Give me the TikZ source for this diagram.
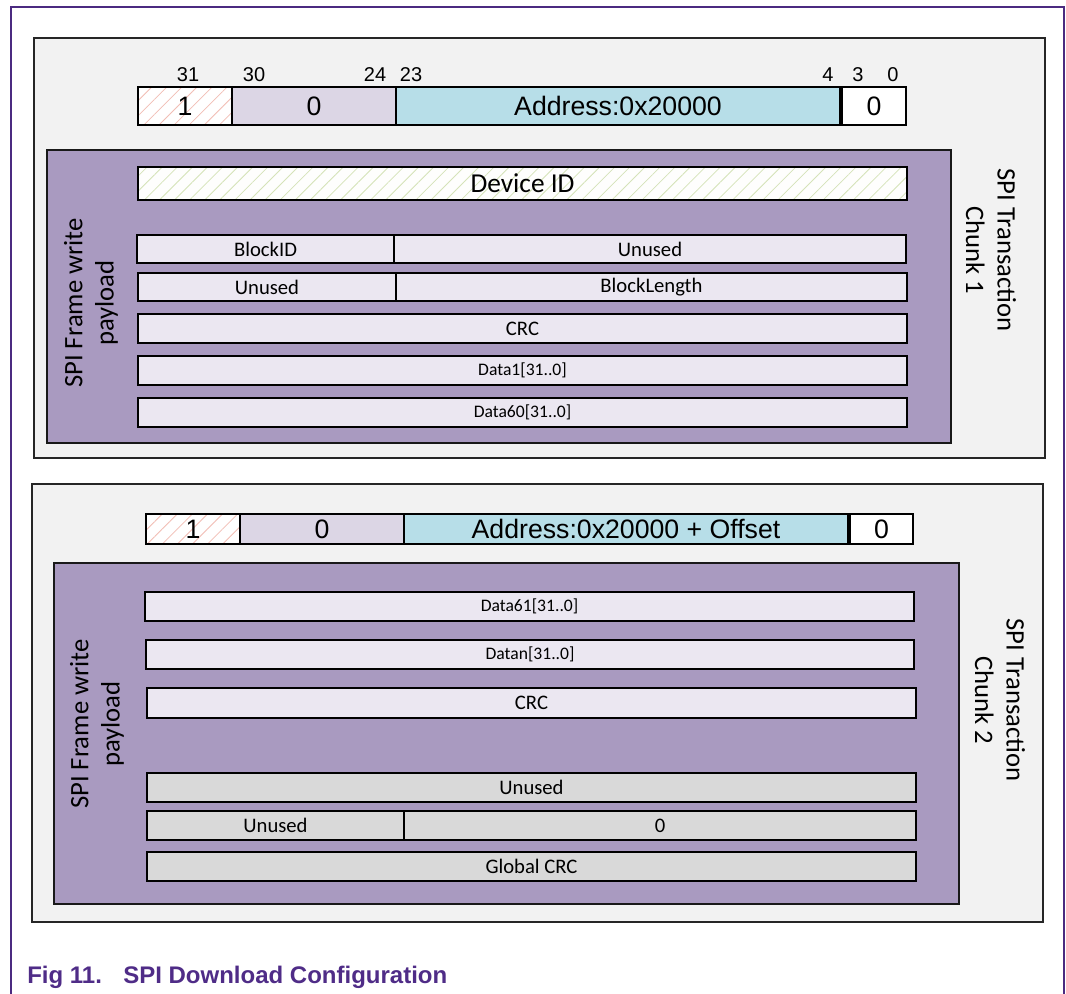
\documentclass[tikz,border=0pt]{standalone}
\usepackage{fontspec}
\setmainfont{Carlito}
\newfontfamily\arialf{Liberation Sans}
\usetikzlibrary{patterns.meta}

\definecolor{framepurple}{HTML}{4B2A80}
\definecolor{chunkbg}{HTML}{F2F2F2}
\definecolor{payload}{HTML}{A99AC0}
\definecolor{rowfill}{HTML}{EBE7F1}
\definecolor{grayrow}{HTML}{D9D9D9}
\definecolor{lav}{HTML}{DCD6E5}
\definecolor{addrblue}{HTML}{B7DEE8}
\definecolor{hatchred}{HTML}{F2BDB4}
\definecolor{hatchgreen}{HTML}{D5E3B8}
\definecolor{captionc}{HTML}{4F2C87}

% a rectangular field given by its pixel corners: style, name, x1, y1, x2, y2, text
\newcommand\fld[7]{%
  \node[#1, minimum width={(#5-#3)*0.75pt}, minimum height={(#6-#4)*0.75pt}]
    (#2) at ({(#3+#5)/2},{(#4+#6)/2}) {#7};}

\tikzset{
  box/.style={rectangle, inner sep=0pt, outer sep=0pt},
  chunk/.style={box, draw=black!85, line width=1.4pt, fill=chunkbg},
  payloadbox/.style={box, draw=black!90, line width=1.1pt, fill=payload},
  hdr/.style={box, draw=black, line width=1.3pt, font=\arialf\fontsize{20}{24}\selectfont},
  hatchone/.style={hdr, preaction={fill=white},
    pattern={Lines[angle=45, distance=8pt, line width=0.6pt]}, pattern color=hatchred},
  zerofield/.style={hdr, fill=lav},
  addrfield/.style={hdr, fill=addrblue},
  lowfield/.style={hdr, fill=white},
  row/.style={box, draw=black, line width=1.2pt, fill=rowfill, font=\fontsize{15.5}{18}\selectfont},
  idrow/.style={row, font=\fontsize{20.5}{24}\selectfont, preaction={fill=white!97!hatchgreen},
    pattern={Lines[angle=45, distance=8pt, line width=0.6pt]}, pattern color=hatchgreen},
  datarow/.style={row, font=\fontsize{13.2}{15}\selectfont},
  grayfield/.style={row, fill=grayrow},
  bitnum/.style={inner sep=0pt, font=\arialf\fontsize{15}{18}\selectfont},
  sidelabel/.style={align=center, inner sep=0pt, font=\fontsize{20}{23.5}\selectfont},
  caption/.style={anchor=base west, inner sep=0pt, text=captionc,
    font=\arialf\bfseries\fontsize{18}{22}\selectfont},
}

\begin{document}
\begin{tikzpicture}[x=0.75pt, y=-0.75pt]
\useasboundingbox (0,0) rectangle (1066,993);

% page frame (open at the bottom)
\coordinate (fbl) at (11,995);
\coordinate (ftl) at (11,7);
\coordinate (ftr) at (1064,7);
\coordinate (fbr) at (1064,995);
\draw[framepurple, line width=1.1pt] (fbl) -- (ftl) -- (ftr) -- (fbr);

% ---------------- chunk 1 ----------------
\fld{chunk}{chunkA}{34}{38}{1045}{458}{}
\fld{hatchone}{a31}{138}{87}{232}{125}{1}
\fld{zerofield}{a30}{232}{87}{396}{125}{0}
\fld{addrfield}{a23}{396}{87}{840}{125}{Address:0x20000}
\fld{lowfield}{a3}{842}{87}{906}{125}{0}
\node[bitnum] (b31) at (188,75) {31};
\node[bitnum] (b30) at (254,75) {30};
\node[bitnum] (b24) at (375,75) {24};
\node[bitnum] (b23) at (411,75) {23};
\node[bitnum] (b4)  at (828,75) {4};
\node[bitnum] (b3)  at (858,75) {3};
\node[bitnum] (b0)  at (893,75) {0};

\fld{payloadbox}{payA}{47}{150}{951}{443}{}
\fld{idrow}{devid}{138}{167}{907}{200}{Device ID}
\fld{row}{blkid}{137}{235}{394}{263}{BlockID}
\fld{row}{unusedA}{394}{235}{906}{263}{Unused}
\fld{row}{unusedB}{138}{273}{396}{301}{Unused}
\fld{row}{blklen}{396}{273}{907}{301}{BlockLength}
\fld{row}{crcA}{138}{314}{907}{343}{CRC}
\fld{datarow}{dataone}{138}{356}{907}{385}{Data1[31..0]}
\fld{datarow}{datasixty}{138}{398}{907}{427}{Data60[31..0]}

\node[sidelabel, rotate=90] (payA label) at (91,303) {SPI Frame write\\payload};
\node[sidelabel, rotate=-90] (chunkA label) at (991,250) {SPI Transaction\\Chunk 1};

% ---------------- chunk 2 ----------------
\fld{chunk}{chunkB}{32}{484}{1043}{922}{}
\fld{hatchone}{c31}{146}{514}{240}{544}{1}
\fld{zerofield}{c30}{240}{514}{404}{544}{0}
\fld{addrfield}{c23}{404}{514}{848}{544}{Address:0x20000 + Offset}
\fld{lowfield}{c3}{850}{514}{913}{544}{0}

\fld{payloadbox}{payB}{54}{563}{959}{904}{}
\fld{datarow}{datasixtyone}{145}{592}{914}{621}{Data61[31..0]}
\fld{datarow}{datan}{146}{640}{914}{669}{Datan[31..0]}
\fld{row}{crcB}{147}{688}{916}{718}{CRC}
\fld{grayfield}{unusedC}{147}{773}{916}{802}{Unused}
\fld{grayfield}{unusedD}{147}{811}{404}{840}{Unused}
\fld{grayfield}{zeroD}{404}{811}{916}{840}{0}
\fld{grayfield}{globalcrc}{147}{852}{916}{881}{Global CRC}

\node[sidelabel, rotate=90] (payB label) at (97,724) {SPI Frame write\\payload};
\node[sidelabel, rotate=-90] (chunkB label) at (1000,700) {SPI Transaction\\Chunk 2};

% ---------------- caption ----------------
\node[caption] (fignum) at (27,983) {Fig 11.};
\node[caption] (figtitle) at (123,983) {SPI Download Configuration};
\end{tikzpicture}
\end{document}
